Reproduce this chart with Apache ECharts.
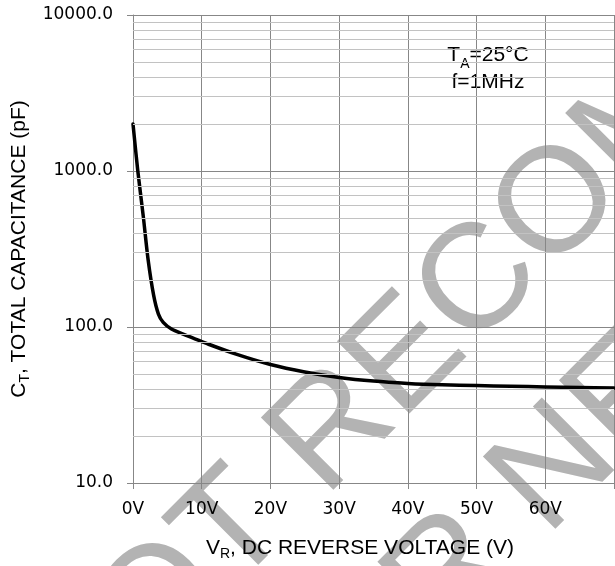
<!DOCTYPE html>
<html>
<head>
<meta charset="utf-8">
<script src="https://cdn.jsdelivr.net/npm/echarts@6/dist/echarts.min.js"></script>
<style>
  html, body { margin: 0; padding: 0; background: #fff; }
  #chart { width: 615px; height: 566px; }
</style>
</head>
<body>
<div id="chart"></div>
<script>
// values
const voltage = [0, 0.7, 1.5, 2.2, 3, 3.7, 4.4, 5.6, 7.3, 9, 10.5, 15, 20, 25, 30, 35, 40, 45, 50, 55, 60, 65, 70];
const capacitance = [2000, 1000, 510, 270, 160, 121, 107, 97, 90, 84, 79, 67, 57.5, 51.5, 47.5, 45, 43.5, 42.6, 42.1, 41.7, 41.3, 41, 40.6];

const xTickLabels = ['0V', '10V', '20V', '30V', '40V', '50V', '60V', ''];
const minorGrid = [20, 30, 40, 50, 60, 70, 80, 90, 200, 300, 400, 500, 600, 700, 800, 900, 2000, 3000, 4000, 5000, 6000, 7000, 8000, 9000];

const dark = '#878787';
const light = '#c2c2c2';
const labelFont = 'DejaVu Sans';
const titleFont = 'Liberation Sans';

const chart = echarts.init(document.getElementById('chart'));

// watermark line: start point of the letters' centre line, rotated 45deg
const wmText = (text, x, y) => ({
  type: 'text',
  z: -5,
  x: x,
  y: y,
  rotation: Math.PI / 4,
  silent: true,
  style: {
    text: text,
    font: '149px "Liberation Sans"',
    fill: '#b3b3b3',
    align: 'left',
    verticalAlign: 'middle'
  }
});

const option = {
  animation: false,
  grid: { left: 133, right: 1, top: 15, bottom: 83, outerBoundsMode: 'none' },
  xAxis: {
    type: 'value',
    min: 0,
    max: 70,
    interval: 10,
    axisLine: { lineStyle: { color: dark, width: 1 } },
    axisTick: { show: true, length: 6, lineStyle: { color: dark } },
    splitLine: { show: true, lineStyle: { color: dark, width: 1 } },
    axisLabel: {
      margin: 18,
      fontFamily: labelFont,
      fontSize: 17,
      color: '#000',
      formatter: v => xTickLabels[Math.round(v / 10)]
    },
    name: '{m|V}{s|R}{m|, DC REVERSE VOLTAGE (V)}',
    nameLocation: 'middle',
    nameGap: 55,
    nameTextStyle: {
      padding: [0, 27, 0, 0],
      rich: {
        m: { fontFamily: titleFont, fontSize: 21, color: '#000', lineHeight: 21, verticalAlign: 'top' },
        s: { fontFamily: titleFont, fontSize: 14, color: '#000', lineHeight: 14, verticalAlign: 'top', padding: [9, 0, 0, 0] }
      }
    }
  },
  yAxis: {
    type: 'log',
    logBase: 10,
    min: 10,
    max: 10000,
    axisLine: { show: true, lineStyle: { color: dark, width: 1 } },
    axisTick: { show: true, length: 6, lineStyle: { color: dark } },
    splitLine: { show: true, lineStyle: { color: dark, width: 1 } },
    axisLabel: {
      margin: 20,
      fontFamily: labelFont,
      fontSize: 17,
      color: '#000',
      formatter: v => Number(v).toFixed(1)
    },
    name: '{m|C}{s|T}{m|, TOTAL CAPACITANCE (pF)}',
    nameLocation: 'middle',
    nameRotate: 90,
    nameGap: 90,
    nameTextStyle: {
      rich: {
        m: { fontFamily: titleFont, fontSize: 21, color: '#000', lineHeight: 21, verticalAlign: 'top' },
        s: { fontFamily: titleFont, fontSize: 14, color: '#000', lineHeight: 14, verticalAlign: 'top', padding: [9, 0, 0, 0] }
      }
    }
  },
  graphic: [
    wmText('NOT RECOMMENDED', 44, 721),
    wmText('FOR NEW DESIGN', 266, 760),
    {
      type: 'group',
      z: 20,
      children: [
        {
          type: 'rect',
          shape: { x: 433, y: 40, width: 112, height: 60 },
          style: { fill: '#fff' }
        },
        {
          type: 'text',
          x: 488,
          y: 72,
          style: {
            text: '{m|T}{s|A}{m|=25°C}\n{m|f=1MHz}',
            align: 'center',
            verticalAlign: 'middle',
            rich: {
              m: { fontFamily: titleFont, fontSize: 21, fill: '#000', lineHeight: 27, verticalAlign: 'top' },
              s: { fontFamily: titleFont, fontSize: 14, fill: '#000', lineHeight: 14, verticalAlign: 'top', padding: [12, 0, 0, 0] }
            }
          }
        }
      ]
    }
  ],
  series: [
    {
      // light minor grid lines of the log axis
      type: 'line',
      z: 1,
      silent: true,
      showSymbol: false,
      lineStyle: { opacity: 0 },
      data: [[0, 10]],
      markLine: {
        silent: true,
        symbol: ['none', 'none'],
        label: { show: false },
        lineStyle: { color: light, width: 1, type: 'solid' },
        data: minorGrid.map(v => ({ yAxis: v }))
      }
    },
    {
      type: 'line',
      z: 3,
      smooth: 0.3,
      showSymbol: false,
      lineStyle: { color: '#000', width: 3.5, cap: 'round', join: 'round' },
      data: voltage.map((v, i) => [v, capacitance[i]])
    }
  ]
};

chart.setOption(option);
</script>
</body>
</html>
